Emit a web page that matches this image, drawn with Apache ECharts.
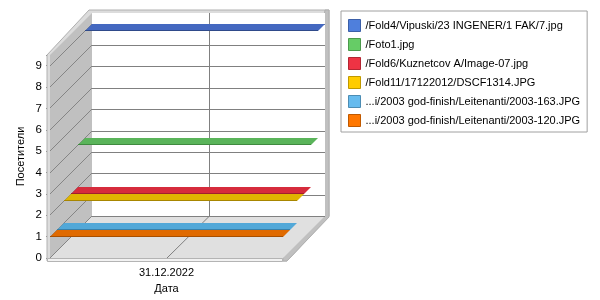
<!DOCTYPE html>
<html><head><meta charset="utf-8">
<script src="https://cdn.jsdelivr.net/npm/echarts@6/dist/echarts.min.js"></script>
<style>html,body{margin:0;padding:0;background:#fff}#c{width:600px;height:300px}</style>
</head><body><div id="c"></div>
<script>
const categories = ['31.12.2022'];
const seriesNames = [
  '/Fold4/Vipuski/23 INGENER/1 FAK/7.jpg',
  '/Foto1.jpg',
  '/Fold6/Kuznetcov A/Image-07.jpg',
  '/Fold11/17122012/DSCF1314.JPG',
  '...i/2003 god-finish/Leitenanti/2003-163.JPG',
  '...i/2003 god-finish/Leitenanti/2003-120.JPG'
];
const seriesValues = [9, 4, 2, 2, 1, 1];
const yTicks = [0, 1, 2, 3, 4, 5, 6, 7, 8, 9];
const legendColors = ['#4f7fdc', '#66cc66', '#ee3344', '#ffcc00', '#66bbee', '#ff7700'];
const legendBorders = ['#3b5fa8', '#4c9a4c', '#b32633', '#bf9900', '#4c8cb3', '#bf5900'];
const faceColors = ['#4468c0', '#5ab45a', '#d62b3c', '#e0b400', '#52a8d8', '#e06a00'];
const edgeColors = ['#2f4a8a', '#3f8a3f', '#a01f2c', '#a88600', '#3a80a8', '#a84f00'];

const DEPTH = 42;
const SLOT = DEPTH / seriesNames.length;
const px = v => Math.round(v) + 0.5;

function renderFrame(params, api) {
  const cs = params.coordSys;
  const L = Math.round(cs.x), R = Math.round(cs.x + cs.width);
  const T = Math.round(cs.y), B = Math.round(cs.y + cs.height);
  const D = DEPTH;
  const ch = [];
  ch.push({type: 'polygon', shape: {points: [[L - 3, B + 3], [L - 3, T], [L + D - 3, T - D - 3], [R + D + 4, T - D - 3], [R + D + 4, B - D], [R + 4, B + 3]]},
    style: {fill: '#dcdcdc', stroke: '#b0b0b0', lineWidth: 1}});
  ch.push({type: 'polygon', shape: {points: [[R + D, T - D - 3], [R + D + 4, T - D - 3], [R + D + 4, B - D + 1], [R + 4, B + 3], [R, B + 3], [R, B]]},
    style: {fill: '#c0c0c0', stroke: '#b0b0b0', lineWidth: 1}});
  ch.push({type: 'rect', shape: {x: L + D, y: T - D, width: R - L, height: B - T}, style: {fill: '#ffffff'}});
  ch.push({type: 'polygon', shape: {points: [[L, T], [L + D, T - D], [L + D, B - D], [L, B]]}, style: {fill: '#c0c0c0'}});
  ch.push({type: 'polygon', shape: {points: [[L, B], [L + D, B - D], [R + D, B - D], [R, B]]}, style: {fill: '#e0e0e0'}});
  ch.push({type: 'rect', shape: {x: L - 2.5, y: B + 0.5, width: R - L + 2, height: 3}, style: {fill: '#f2f2f2', stroke: '#b4b4b4', lineWidth: 1}});
  yTicks.forEach(v => {
    const y = Math.round(api.coord([0, v])[1]);
    ch.push({type: 'line', shape: {x1: L + D, y1: px(y - D), x2: R + D, y2: px(y - D)}, style: {stroke: '#808080', lineWidth: 1}});
    ch.push({type: 'line', shape: {x1: L, y1: y, x2: L + D, y2: y - D}, style: {stroke: '#858585', lineWidth: 1}});
  });
  const xc = Math.round(api.coord([0, 0])[0]);
  ch.push({type: 'polyline', shape: {points: [[px(xc + D), T - D], [px(xc + D), B - D], [xc, B]]}, style: {stroke: '#808080', lineWidth: 1, fill: null}});
  return {type: 'group', children: ch};
}

function makeRibbon(slot, face, edge) {
  return function (params, api) {
    const c = api.coord([api.value(0), api.value(1)]);
    const bw = api.size([1, 0])[0];
    const x0 = Math.round(c[0] - bw / 2 + slot * SLOT), x1 = Math.round(c[0] + bw / 2 + slot * SLOT);
    const y = Math.round(c[1] - slot * SLOT);
    const s = Math.round(SLOT);
    const pts = [[x0, y], [x1, y], [x1 + s, y - s], [x0 + s, y - s]];
    return {type: 'group', children: [
      {type: 'polygon', shape: {points: pts}, style: {fill: face}},
      {type: 'line', shape: {x1: x0, y1: y - 0.5, x2: x1, y2: y - 0.5}, style: {stroke: edge, lineWidth: 1}}
    ]};
  };
}

const series = [{
  type: 'custom', name: 'frame', silent: true, clip: false,
  data: [[0, 0]], renderItem: renderFrame
}];
seriesNames.forEach((n, i) => {
  series.push({
    type: 'custom', name: n, clip: false,
    itemStyle: {color: legendColors[i]},
    data: [[0, seriesValues[i]]],
    renderItem: makeRibbon(seriesNames.length - 1 - i, faceColors[i], edgeColors[i])
  });
});

const chart = echarts.init(document.getElementById('c'), null, {renderer: 'canvas'});
chart.setOption({
  animation: false,
  backgroundColor: '#ffffff',
  textStyle: {fontFamily: 'Liberation Sans', fontSize: 11, color: '#000'},
  grid: {left: 50, right: 317, top: 55, bottom: 42},
  xAxis: {
    type: 'category', data: categories,
    axisLine: {show: false}, axisTick: {show: false}, splitLine: {show: false},
    axisLabel: {margin: 9, fontSize: 11, color: '#000', fontFamily: 'Liberation Sans'},
    name: 'Дата', nameLocation: 'middle', nameGap: 25,
    nameTextStyle: {fontSize: 11, color: '#000', fontFamily: 'Liberation Sans'}
  },
  yAxis: {
    type: 'value', min: 0, max: 9.5, interval: 1,
    axisLine: {show: false},
    axisTick: {show: true, length: 4, lineStyle: {color: '#808080'}},
    splitLine: {show: false},
    axisLabel: {margin: 8, fontSize: 11.5, color: '#000', fontFamily: 'Liberation Sans',
      formatter: v => (Number.isInteger(v) ? String(v) : '')},
    name: 'Посетители', nameLocation: 'middle', nameGap: 24,
    nameTextStyle: {fontSize: 11, color: '#000', fontFamily: 'Liberation Sans'}
  },
  legend: {
    orient: 'vertical', left: 341, top: 11,
    padding: [8, 7, 5, 7], itemGap: 6, itemWidth: 12, itemHeight: 12,
    borderColor: '#a0a0a0', borderWidth: 1, backgroundColor: '#fff',
    icon: 'rect', selectedMode: false,
    textStyle: {fontSize: 11, color: '#000', fontFamily: 'Liberation Sans'},
    data: seriesNames.map((n, i) => ({name: n, itemStyle: {color: legendColors[i], borderColor: legendBorders[i], borderWidth: 1}}))
  },
  series: series
});
</script>
</body></html>
